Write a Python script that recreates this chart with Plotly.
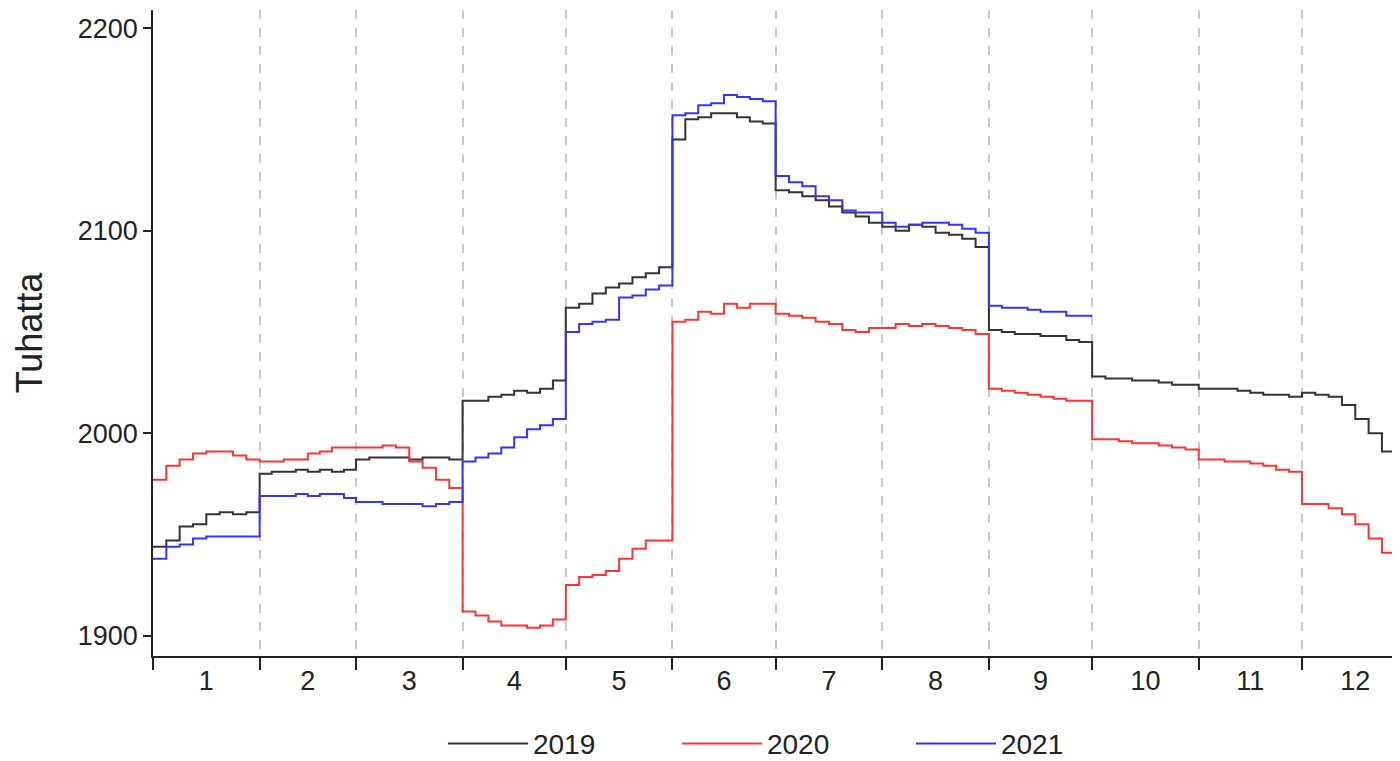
import plotly.graph_objects as go

# month lengths (days) and labels
MONTH_DAYS = [31, 28, 31, 30, 31, 30, 31, 31, 30, 31, 30, 31]
MONTH_LABELS = [str(m) for m in range(1, 13)]

# values in thousands, 8 sub-periods per month
Y2019 = [
    [1944, 1947, 1954, 1955, 1960, 1961, 1960, 1961],
    [1980, 1981, 1981, 1982, 1981, 1982, 1981, 1982],
    [1987, 1988, 1988, 1988, 1987, 1988, 1988, 1987],
    [2016, 2016, 2018, 2019, 2021, 2020, 2022, 2026],
    [2062, 2064, 2069, 2072, 2074, 2077, 2079, 2082],
    [2145, 2155, 2156, 2158, 2158, 2156, 2154, 2153],
    [2120, 2119, 2117, 2115, 2112, 2109, 2107, 2104],
    [2102, 2100, 2103, 2102, 2099, 2098, 2096, 2092],
    [2051, 2050, 2049, 2049, 2048, 2048, 2046, 2045],
    [2028, 2027, 2027, 2026, 2026, 2025, 2024, 2024],
    [2022, 2022, 2022, 2021, 2020, 2019, 2019, 2018],
    [2020, 2019, 2018, 2014, 2007, 2000, 1991, 1990],
]
Y2020 = [
    [1977, 1984, 1987, 1990, 1991, 1991, 1989, 1987],
    [1986, 1986, 1987, 1987, 1990, 1991, 1993, 1993],
    [1993, 1993, 1994, 1993, 1986, 1983, 1977, 1973],
    [1912, 1910, 1907, 1905, 1905, 1904, 1905, 1908],
    [1925, 1929, 1930, 1932, 1938, 1943, 1947, 1947],
    [2055, 2056, 2060, 2059, 2064, 2062, 2064, 2064],
    [2059, 2058, 2057, 2055, 2054, 2051, 2050, 2052],
    [2052, 2054, 2053, 2054, 2053, 2052, 2051, 2049],
    [2022, 2021, 2020, 2019, 2018, 2017, 2016, 2016],
    [1997, 1997, 1996, 1995, 1995, 1994, 1993, 1992],
    [1987, 1987, 1986, 1986, 1985, 1984, 1982, 1981],
    [1965, 1965, 1963, 1960, 1955, 1948, 1941, 1936],
]
Y2021 = [
    [1938, 1944, 1945, 1948, 1949, 1949, 1949, 1949],
    [1969, 1969, 1969, 1970, 1969, 1970, 1970, 1968],
    [1966, 1966, 1965, 1965, 1965, 1964, 1965, 1966],
    [1986, 1988, 1990, 1993, 1998, 2002, 2004, 2007],
    [2050, 2054, 2055, 2056, 2067, 2068, 2071, 2073],
    [2157, 2158, 2162, 2163, 2167, 2166, 2165, 2164],
    [2127, 2124, 2122, 2117, 2115, 2110, 2109, 2109],
    [2104, 2102, 2103, 2104, 2104, 2103, 2101, 2099],
    [2063, 2062, 2062, 2061, 2060, 2060, 2058, 2058],
]

SERIES = [("2019", Y2019, "#333333"), ("2020", Y2020, "#ff3333"), ("2021", Y2021, "#3333ff")]

starts = [sum(MONTH_DAYS[:i]) for i in range(12)]
mids = [s + d / 2 for s, d in zip(starts, MONTH_DAYS)]


def to_xy(months):
    xs, ys = [], []
    for i, vals in enumerate(months):
        n = len(vals)
        for k, v in enumerate(vals):
            xs.append(starts[i] + k * MONTH_DAYS[i] / n)
            ys.append(v)
    last = len(months) - 1
    xs.append(starts[last] + MONTH_DAYS[last])
    ys.append(months[last][-1])
    return xs, ys


fig = go.Figure()
for name, months, color in SERIES:
    x, y = to_xy(months)
    fig.add_trace(go.Scatter(
        x=x, y=y, name=name, mode="lines",
        line=dict(color=color, width=2, shape="hv"),
    ))

fig.update_layout(
    width=1400, height=761,
    paper_bgcolor="white", plot_bgcolor="white",
    font=dict(family="Liberation Sans, Arial, sans-serif", color="#222222"),
    # legend sits in the bottom margin; keep plotly from growing the margin
    margin=dict(l=145, r=8, t=2, b=113, autoexpand=False),
    showlegend=True,
    legend=dict(orientation="h", x=0.514, xanchor="center", y=-0.136, yanchor="middle",
                font=dict(size=28), itemwidth=80,
                entrywidth=139, entrywidthmode="pixels"),
)
fig.update_xaxes(
    range=[0, 362.5],
    tickmode="array", tickvals=mids, ticktext=MONTH_LABELS, ticks="",
    tickfont=dict(size=27),
    showgrid=False, zeroline=False,
    showline=True, linecolor="#222222", linewidth=1.5,
    minor=dict(tickmode="array", tickvals=starts, ticks="outside", ticklen=12,
               tickcolor="#222222", tickwidth=1.5,
               showgrid=True, gridcolor="#c8c8c8", griddash="dash", gridwidth=1.5),
)
fig.update_yaxes(
    range=[1890, 2209],
    tickvals=[1900, 2000, 2100, 2200],
    ticks="outside", ticklen=8, tickcolor="#222222", tickwidth=1.5,
    tickfont=dict(size=27),
    showgrid=False, zeroline=False,
    showline=True, linecolor="#222222", linewidth=1.5,
    title=dict(text="Tuhatta", font=dict(size=36), standoff=24),
)

fig.write_html("out.html")
